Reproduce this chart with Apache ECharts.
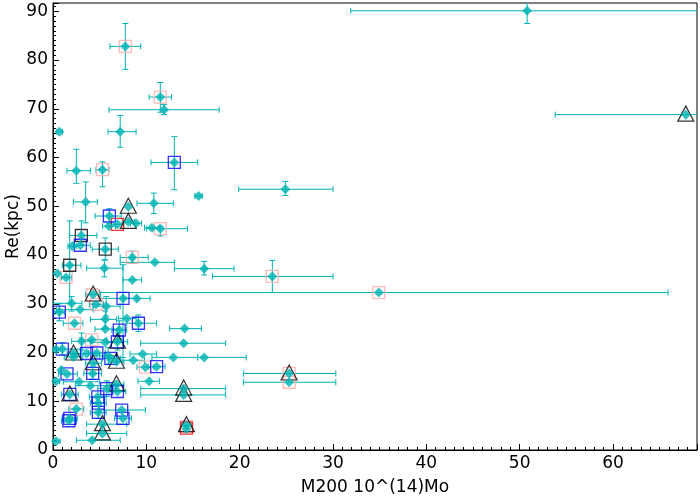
<!DOCTYPE html>
<html>
<head>
<meta charset="utf-8">
<script src="https://cdn.jsdelivr.net/npm/echarts@6/dist/echarts.min.js"></script>
<style>
html, body { margin: 0; padding: 0; background: #fff; }
#main { width: 700px; height: 500px; }
</style>
</head>
<body>
<div id="main"></div>
<script>
var teal = '#00b3b3';

// tick labels
var xTicks = [0, 10, 20, 30, 40, 50, 60];
var yTicks = [0, 10, 20, 30, 40, 50, 60, 70, 80, 90];

// [M200, Re, M200 low, M200 high, Re low, Re high]  (null = no bar)
var points = [
    [50.8, 90.1, 31.9, 75.0, 87.5, 92.7],
    [67.8, 68.8, 53.8, 82.0, null, null],
    [24.9, 53.5, 19.9, 30.0, 52.2, 55.1],
    [15.6, 52.1, 15.2, 16.0, null, null],
    [7.75, 82.8, 6.1, 9.4, 78.1, 87.5],
    [11.5, 72.4, 10.3, 12.7, 69.3, 75.4],
    [11.9, 69.8, 6.0, 17.8, 68.8, 70.9],
    [0.68, 65.3, 0.4, 1.0, null, null],
    [7.2, 65.3, 5.9, 8.9, 62.1, 68.6],
    [13.0, 59.0, 10.5, 15.5, 53.4, 64.3],
    [2.5, 57.3, 1.5, 4.0, 54.7, 61.7],
    [5.3, 57.5, 4.6, 6.0, 54.0, 59.1],
    [3.5, 50.9, 2.2, 4.75, 46.6, 55.0],
    [8.07, 49.9, null, null, null, null],
    [10.8, 50.6, 9.0, 12.9, 48.5, 52.7],
    [6.04, 48.0, 4.5, 7.3, 46.5, 49.5],
    [6.9, 46.3, 6.2, 7.6, null, null],
    [6.0, 45.9, 5.3, 6.7, null, null],
    [8.07, 46.8, 7.4, 8.7, null, null],
    [8.9, 46.5, 8.3, 9.5, null, null],
    [10.6, 45.6, 9.8, 11.4, null, null],
    [11.5, 45.4, 10.0, 14.4, 43.9, 45.9],
    [3.04, 44.0, 1.75, 4.7, 42.0, 47.0],
    [2.93, 42.0, 2.2, 4.0, null, null],
    [2.07, 41.8, 1.6, 2.5, null, null],
    [5.6, 41.2, 4.2, 7.0, 39.0, 43.5],
    [8.5, 39.5, 7.2, 10.2, 38.3, 40.8],
    [10.9, 38.5, 7.2, 13.0, null, null],
    [1.79, 37.9, 1.0, 3.0, 30.0, 47.0],
    [1.4, 35.4, 0.9, 2.0, null, null],
    [0.46, 36.2, null, null, null, null],
    [5.5, 37.3, 3.6, 7.5, 35.5, 39.0],
    [8.5, 34.9, 7.5, 9.5, null, null],
    [16.2, 37.2, 13.0, 19.4, 35.9, 38.7],
    [23.5, 35.6, 17.1, 30.0, 32.3, 38.9],
    [34.9, 32.3, 5.0, 65.9, null, null],
    [4.3, 31.9, 3.5, 5.1, null, null],
    [4.6, 29.9, 3.9, 5.4, null, null],
    [7.5, 31.1, 5.0, 9.0, 19.0, 38.0],
    [8.97, 31.1, 7.6, 10.4, null, null],
    [2.0, 30.1, 0.0, 3.1, 28.5, 31.5],
    [2.9, 28.8, 0.4, 4.3, null, null],
    [5.7, 29.5, 4.3, 7.2, 27.5, 31.5],
    [0.68, 28.3, 0.2, 1.2, 26.5, 30.0],
    [2.3, 26.0, 1.1, 3.2, null, null],
    [5.6, 26.8, 4.0, 6.8, 25.0, 28.5],
    [7.9, 27.0, 7.0, 8.9, null, null],
    [9.15, 26.0, 7.9, 11.1, 24.3, 27.7],
    [5.6, 24.8, 4.5, 7.0, null, null],
    [7.1, 24.6, 6.3, 7.9, 22.8, 26.5],
    [14.1, 24.9, 12.5, 15.9, null, null],
    [4.15, 22.6, 2.9, 5.75, null, null],
    [6.9, 22.2, 5.8, 8.0, 20.5, 24.0],
    [3.07, 22.3, 2.0, 4.2, 20.5, 24.0],
    [5.6, 22.1, 4.0, 7.5, null, null],
    [14.0, 21.9, 9.4, 18.5, null, null],
    [1.0, 20.7, 0.0, 3.1, 19.5, 22.0],
    [0.35, 20.6, null, null, null, null],
    [2.2, 19.8, 1.5, 3.0, null, null],
    [3.6, 19.8, 2.6, 4.6, null, null],
    [4.7, 19.9, 3.8, 5.6, null, null],
    [5.9, 19.3, 5.0, 6.8, 17.5, 21.0],
    [9.6, 19.7, 8.25, 11.1, null, null],
    [12.9, 19.0, 10.6, 15.5, null, null],
    [16.2, 19.0, 15.5, 20.7, null, null],
    [8.6, 18.4, 7.4, 9.8, null, null],
    [2.2, 19.1, 1.2, 3.2, null, null],
    [4.3, 17.8, 3.5, 5.2, null, null],
    [4.25, 15.7, 3.3, 5.2, 14.5, 17.0],
    [1.5, 15.6, 0.6, 2.6, null, null],
    [0.9, 16.4, null, null, null, null],
    [6.2, 18.8, 5.3, 7.2, null, null],
    [6.8, 18.1, 6.0, 7.6, null, null],
    [9.9, 17.0, 9.0, 10.8, null, null],
    [11.1, 17.1, 10.2, 12.0, null, null],
    [0.32, 14.1, 0.0, 0.7, null, null],
    [2.8, 14.0, 1.1, 5.0, null, null],
    [4.0, 13.2, 2.4, 6.4, null, null],
    [5.75, 12.6, 4.8, 6.7, 11.0, 14.2],
    [6.8, 13.5, 6.0, 7.6, null, null],
    [6.9, 12.0, 6.0, 7.8, null, null],
    [10.3, 14.1, 9.1, 11.4, null, null],
    [1.8, 11.4, 0.9, 2.7, null, null],
    [4.8, 10.9, 3.9, 5.7, null, null],
    [4.86, 9.6, 4.0, 5.7, null, null],
    [4.86, 7.7, 4.0, 5.7, 6.5, 9.0],
    [2.5, 8.4, 1.7, 3.3, null, null],
    [7.36, 8.2, 5.0, 9.9, null, null],
    [7.5, 6.5, 6.6, 8.4, null, null],
    [1.8, 6.5, 1.0, 2.6, null, null],
    [1.7, 6.0, 0.9, 2.5, null, null],
    [5.3, 5.3, 3.6, 7.9, null, null],
    [5.3, 3.4, 3.6, 7.9, null, null],
    [0.32, 1.8, 0.0, 0.75, null, null],
    [4.2, 2.0, 2.5, 7.2, null, null],
    [14.0, 12.6, 9.4, 18.5, null, null],
    [14.0, 11.3, 9.4, 18.5, null, null],
    [14.3, 5.1, 13.8, 14.8, null, null],
    [14.3, 4.3, null, null, null, null],
    [25.3, 15.7, 20.4, 30.3, null, null],
    [25.3, 13.9, 20.4, 30.3, null, null]
];

var squaresPink = [
    [7.75, 82.8], [11.5, 72.4], [5.3, 57.5], [11.5, 45.4], [8.5, 39.5],
    [1.4, 35.4], [4.25, 31.8], [4.65, 29.9], [2.3, 26.0], [4.15, 22.6],
    [9.9, 17.0], [2.5, 8.4], [23.5, 35.6], [34.9, 32.3], [25.3, 15.7],
    [25.3, 13.9], [14.3, 4.8]
];
var squaresRed = [[6.9, 46.3], [14.3, 4.5]];
var squaresBlack = [[3.04, 44.0], [5.6, 41.2], [1.79, 37.9]];
var squaresBlue = [
    [13.0, 59.0], [6.04, 48.0], [2.93, 42.0], [0.68, 28.3], [7.5, 31.1],
    [9.15, 26.0], [7.1, 24.6], [6.9, 22.2], [1.0, 20.7], [3.6, 19.8],
    [4.7, 19.9], [6.2, 18.8], [11.1, 17.1], [1.5, 15.6], [4.25, 15.7],
    [5.75, 12.6], [6.9, 12.0], [1.8, 11.4], [4.8, 10.9], [4.86, 9.6],
    [4.86, 7.7], [7.36, 8.2], [7.5, 6.5], [1.8, 6.5], [1.7, 6.0]
];
var triangles = [
    [8.07, 49.9], [8.07, 46.8], [4.3, 31.9], [6.9, 22.2], [2.2, 19.8],
    [4.3, 17.8], [6.8, 18.1], [6.8, 13.5], [1.8, 11.4], [5.3, 5.3],
    [5.3, 3.4], [14.0, 12.6], [14.0, 11.3], [14.3, 5.1], [25.3, 15.7],
    [67.8, 68.8]
];

function errorBars(params, api) {
    var p = points[params.dataIndex];
    var c = api.coord([p[0], p[1]]);
    var cap = 3;
    var kids = [];
    var st = {stroke: teal, lineWidth: 1};
    if (p[2] != null) {
        var a = api.coord([p[2], p[1]]), b = api.coord([p[3], p[1]]);
        kids.push({type: 'line', shape: {x1: a[0], y1: c[1], x2: b[0], y2: c[1]}, style: st});
        kids.push({type: 'line', shape: {x1: a[0], y1: c[1] - cap, x2: a[0], y2: c[1] + cap}, style: st});
        kids.push({type: 'line', shape: {x1: b[0], y1: c[1] - cap, x2: b[0], y2: c[1] + cap}, style: st});
    }
    if (p[4] != null) {
        var lo = api.coord([p[0], p[4]]), hi = api.coord([p[0], p[5]]);
        kids.push({type: 'line', shape: {x1: c[0], y1: lo[1], x2: c[0], y2: hi[1]}, style: st});
        kids.push({type: 'line', shape: {x1: c[0] - cap, y1: lo[1], x2: c[0] + cap, y2: lo[1]}, style: st});
        kids.push({type: 'line', shape: {x1: c[0] - cap, y1: hi[1], x2: c[0] + cap, y2: hi[1]}, style: st});
    }
    return {type: 'group', children: kids};
}

function squareSeries(data, color) {
    return {
        type: 'scatter',
        data: data,
        symbol: 'rect',
        symbolSize: 12,
        z: 3,
        silent: true,
        itemStyle: {color: 'rgba(0,0,0,0)', borderColor: color, borderWidth: 1.3}
    };
}

var fontName = 'DejaVu Sans';

var myChart = echarts.init(document.getElementById('main'), null, {renderer: 'canvas'});
myChart.setOption({
    backgroundColor: '#fff',
    animation: false,
    grid: {
        left: 53, right: 3, top: 3, bottom: 50,
        outerBoundsMode: 'none',
        containLabel: false,
        show: true, borderColor: '#000', borderWidth: 1
    },
    xAxis: {
        type: 'value',
        min: 0, max: 69, interval: 10,
        name: 'M200 10^(14)Mo',
        nameLocation: 'middle',
        nameGap: 29,
        nameTextStyle: {fontSize: 17, color: '#000', fontFamily: fontName},
        axisLine: {lineStyle: {color: '#000', width: 1}},
        axisTick: {inside: true, length: 6, lineStyle: {color: '#000'}},
        minorTick: {show: true, splitNumber: 10, length: 3, lineStyle: {color: '#000'}},
        splitLine: {show: false},
        axisLabel: {
            fontSize: 17, color: '#000', fontFamily: fontName, margin: 5,
            formatter: function (v) { return xTicks.indexOf(v) >= 0 ? String(v) : ''; }
        }
    },
    yAxis: {
        type: 'value',
        min: 0, max: 91.7, interval: 10,
        name: 'Re(kpc)',
        nameLocation: 'middle',
        nameGap: 31,
        nameMoveOverlap: false,
        nameTextStyle: {fontSize: 17, color: '#000', fontFamily: fontName},
        axisLine: {lineStyle: {color: '#000', width: 1}},
        axisTick: {inside: true, length: 6, lineStyle: {color: '#000'}},
        minorTick: {show: true, splitNumber: 10, length: 3, lineStyle: {color: '#000'}},
        splitLine: {show: false},
        axisLabel: {
            fontSize: 17, color: '#000', fontFamily: fontName, margin: 5,
            formatter: function (v) { return yTicks.indexOf(v) >= 0 ? String(v) : ''; }
        }
    },
    series: [
        {
            type: 'custom',
            renderItem: errorBars,
            clip: true,
            z: 2,
            silent: true,
            data: points.map(function (p) { return [p[0], p[1]]; })
        },
        squareSeries(squaresPink, '#ffaaaa'),
        squareSeries(squaresRed, '#ff0000'),
        squareSeries(squaresBlack, '#000000'),
        squareSeries(squaresBlue, '#0000ff'),
        {
            type: 'scatter',
            data: triangles,
            symbol: 'triangle',
            symbolSize: [16, 15],
            symbolOffset: [0, -1],
            z: 3,
            silent: true,
            itemStyle: {color: 'rgba(255,255,255,0)', borderColor: '#000', borderWidth: 1.2}
        },
        {
            type: 'scatter',
            data: points.map(function (p) { return [p[0], p[1]]; }),
            symbol: 'diamond',
            symbolSize: 10,
            z: 4,
            silent: true,
            itemStyle: {color: teal}
        }
    ]
});
</script>
</body>
</html>
